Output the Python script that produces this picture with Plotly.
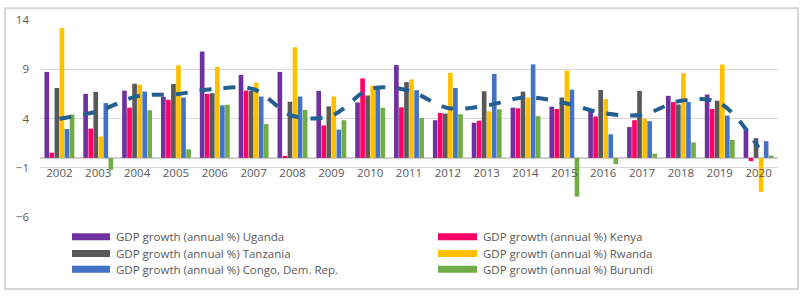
import plotly.graph_objects as go

years = [str(y) for y in range(2002, 2021)]

uganda   = [8.73, 6.5, 6.83, 6.2, 10.8, 8.43, 8.73, 6.8, 5.63, 9.43, 3.83, 3.57, 5.1, 5.2, 4.8, 3.13, 6.3, 6.43, 2.93]
kenya    = [0.53, 2.97, 5.1, 5.9, 6.5, 6.83, 0.2, 3.3, 8.07, 5.13, 4.57, 3.77, 5.03, 4.97, 4.2, 3.83, 5.67, 4.97, -0.33]
tanzania = [7.1, 6.7, 7.53, 7.5, 6.57, 6.83, 5.7, 5.23, 6.33, 7.7, 4.5, 6.77, 6.73, 6.13, 6.9, 6.8, 5.43, 5.8, 2.0]
rwanda   = [13.2, 2.17, 7.43, 9.4, 9.23, 7.63, 11.23, 6.23, 7.33, 7.97, 8.63, 4.73, 6.13, 8.87, 5.97, 3.97, 8.6, 9.47, -3.43]
congo    = [2.93, 5.57, 6.73, 6.13, 5.33, 6.23, 6.23, 2.87, 7.07, 6.87, 7.1, 8.53, 9.5, 6.93, 2.4, 3.73, 5.67, 4.3, 1.7]
burundi  = [4.4, -1.2, 4.83, 0.87, 5.4, 3.43, 4.87, 3.83, 5.1, 4.03, 4.43, 4.93, 4.23, -3.93, -0.63, 0.43, 1.57, 1.83, 0.23]
trend    = [3.98, 4.75, 6.25, 6.47, 7.0, 6.97, 4.28, 4.28, 7.0, 6.82, 5.07, 5.32, 6.15, 5.58, 4.55, 4.38, 5.8, 5.57, 1.05]

names = ["GDP growth (annual %) Uganda", "GDP growth (annual %) Kenya",
         "GDP growth (annual %) Tanzania", "GDP growth (annual %) Rwanda",
         "GDP growth (annual %) Congo, Dem. Rep.", "GDP growth (annual %) Burundi"]
series = [uganda, kenya, tanzania, rwanda, congo, burundi]
colors = ["#7030A0", "#FF0066", "#595959", "#FFC000", "#4472C4", "#70AD47"]

y_ticks = [-6, -1, 4, 9, 14]

FONT = "Open Sans"
TXT = "#595959"

fig = go.Figure()
for nm, vals, col in zip(names, series, colors):
    fig.add_trace(go.Bar(x=years, y=vals, name=nm, marker_color=col,
                         marker_line_width=0, showlegend=False))

fig.add_trace(go.Scatter(x=years, y=trend, mode="lines", showlegend=False,
                         line=dict(color="#255E91", width=4, dash="dash",
                                   shape="spline", smoothing=1)))

W, H = 804, 296
L, R, T, B = 40, 26, 17, 79
pw, ph = W - L - R, H - T - B


def px2x(px):
    return (px - L) / pw


def py2y(py):
    return (H - B - py) / ph


shapes = []
annotations = []
# chart border
shapes.append(dict(type="rect", xref="paper", yref="paper", layer="above",
                   x0=px2x(5), x1=px2x(798), y0=py2y(290), y1=py2y(5),
                   line=dict(color="#D6D6D6", width=2)))

# custom legend (2 columns x 3 rows)
col_sw = [(72, 110, 114), (438, 477, 481)]
rows = [237, 254, 270]
for i, (nm, col) in enumerate(zip(names, colors)):
    r, c = divmod(i, 2)
    sx0, sx1, tx = col_sw[c]
    ry = rows[r]
    shapes.append(dict(type="rect", xref="paper", yref="paper",
                       x0=px2x(sx0), x1=px2x(sx1), y0=py2y(ry + 3.5), y1=py2y(ry - 3.5),
                       fillcolor=col, line=dict(width=0)))
    annotations.append(dict(xref="paper", yref="paper", x=px2x(tx), y=py2y(ry),
                            text=nm, showarrow=False, xanchor="left", yanchor="middle",
                            font=dict(family=FONT, size=11.5, color=TXT)))

fig.update_layout(
    width=W, height=H,
    margin=dict(l=L, r=R, t=T, b=B),
    paper_bgcolor="white", plot_bgcolor="white",
    barmode="group", bargap=0.22, bargroupgap=0.08,
    shapes=shapes, annotations=annotations,
    font=dict(family=FONT, size=11, color=TXT),
    xaxis=dict(type="category", anchor="free", position=py2y(157),
               showline=False, showgrid=False, ticks="",
               tickfont=dict(family=FONT, size=11.5, color=TXT),
               ticklabelstandoff=7),
    yaxis=dict(range=[-6, 14], tickvals=y_ticks, showgrid=True,
               gridcolor="#D9D9D9", gridwidth=1,
               zeroline=True, zerolinecolor="#CFCFCF", zerolinewidth=1.5,
               ticks="", ticklabelstandoff=10,
               tickfont=dict(family=FONT, size=11.5, color=TXT)),
)

fig.write_html("out.html", config={"displayModeBar": False},
               post_script="document.body.style.margin='0';")
